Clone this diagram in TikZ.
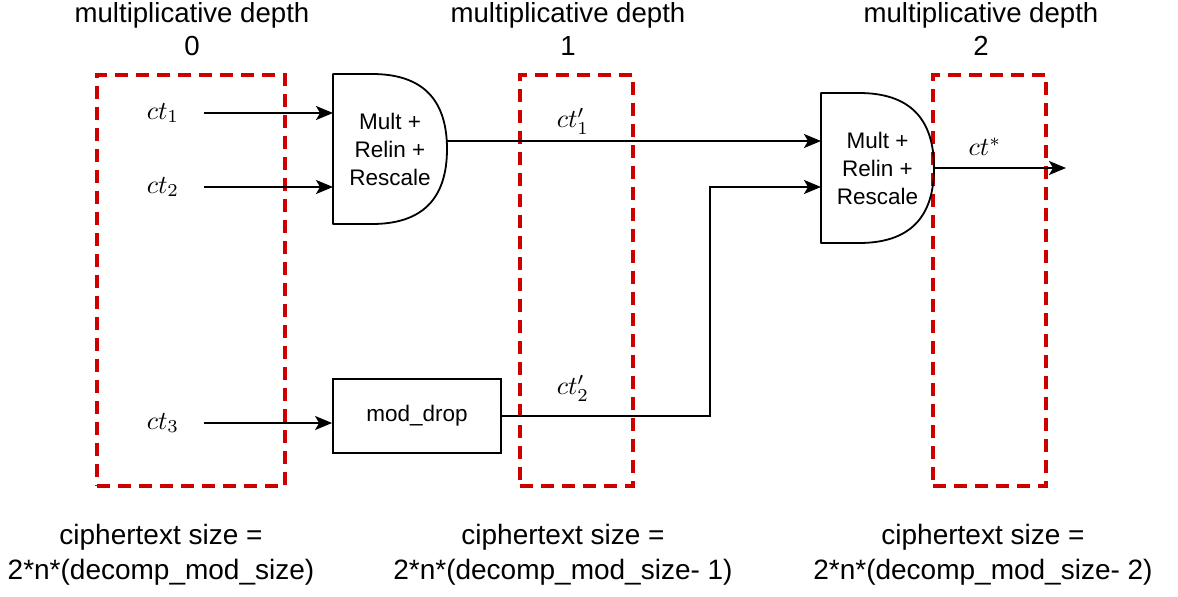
\documentclass[tikz,border=0pt]{standalone}
\usepackage{fontspec}
\setmainfont{Liberation Sans}
\usetikzlibrary{arrows.meta}
\definecolor{depthred}{HTML}{CC0000}

\begin{document}
\begin{tikzpicture}[x=1pt,y=-1pt,
  plain/.style={line width=1.8pt, black},
  wire/.style={plain, -{Stealth[length=17pt,width=14pt,inset=4pt]}},
  depthbox/.style={draw=depthred, line width=4pt, dash pattern=on 13pt off 8pt,
    inner sep=0pt, outer sep=0pt},
  bigtext/.style={align=center, inner sep=0pt,
    font=\fontsize{27.6}{33}\selectfont},
  gatetext/.style={align=center, inner sep=0pt, outer sep=0pt,
    font=\fontsize{22.5}{28}\selectfont},
  mathlabel/.style={inner sep=0pt, scale=2.6, transform shape},
  inlabel/.style={mathlabel, minimum width=80pt/2.6},
]
\useasboundingbox (0,0) rectangle (1178,597);

% depth regions
\node[depthbox, minimum width=188pt, minimum height=411pt] (depth0) at (191,280.5) {};
\node[depthbox, minimum width=113pt, minimum height=411pt] (depth1) at (576.5,280.5) {};
\node[depthbox, minimum width=113pt, minimum height=411pt] (depth2) at (989.5,280.5) {};

% headings
\node[bigtext] (head0) at (192,29) {multiplicative depth\\0};
\node[bigtext] (head1) at (568,29) {multiplicative depth\\1};
\node[bigtext] (head2) at (981,29) {multiplicative depth\\2};

% ciphertext sizes
\node[bigtext, font=\fontsize{28}{35}\selectfont] (size0) at (161,555) {ciphertext size =\\2*n*(decomp\_mod\_size)};
\node[bigtext, font=\fontsize{28}{35}\selectfont] (size1) at (563,555) {ciphertext size =\\2*n*(decomp\_mod\_size- 1)};
\node[bigtext, font=\fontsize{28}{35}\selectfont] (size2) at (983,555) {ciphertext size =\\2*n*(decomp\_mod\_size- 2)};

% gates
\node[gatetext, minimum width=114pt, minimum height=150pt] (gate1) at (390,149) {Mult +\\Relin +\\Rescale};
\node[gatetext, minimum width=113pt, minimum height=150pt] (gate2) at (877.5,168) {Mult +\\Relin +\\Rescale};
\foreach \g in {gate1,gate2}{
  \draw[plain, line join=round] (\g.north west) -- ([xshift=-75pt]\g.north east)
    .. controls +(50,0) and +(0,-50) .. (\g.east)
    .. controls +(0,50) and +(50,0) .. ([xshift=-75pt]\g.south east)
    -- (\g.south west) -- cycle;
}

% modulus drop
\node[draw, plain, minimum width=168pt, minimum height=74pt, inner sep=0pt,
  font=\fontsize{22.5}{28}\selectfont] (drop) at (417,416) {mod\_drop};

% input ciphertexts (box reaches to where each wire starts)
\node[inlabel] (ct1) at (163,113) {$ct_1$};
\node[inlabel] (ct2) at (163,187) {$ct_2$};
\node[inlabel] (ct3) at (163,423) {$ct_3$};

\draw[wire] (ct1.east) -- (ct1.east -| gate1.west);
\draw[wire] (ct2.east) -- (ct2.east -| gate1.west);
\draw[wire] (ct3.east) -- (ct3.east -| drop.west);

% intermediate ciphertexts
\coordinate (g1out) at ([yshift=8pt]gate1.east);
\coordinate (g2in2) at ([yshift=-19pt]gate2.west);
\coordinate (bend) at (710,416);
\coordinate (result) at (1066,168);

\draw[wire] (g1out) -- (g1out -| gate2.west);
\draw[wire] (drop.east) -- (bend) |- (g2in2);
\draw[wire] (gate2.east) -- (result);

\node[mathlabel] (ct1p) at (573,121) {$ct_1'$};
\node[mathlabel] (ct2p) at (573,388) {$ct_2'$};
\node[mathlabel] (ctstar) at (985,147) {$ct^*$};
\end{tikzpicture}
\end{document}
